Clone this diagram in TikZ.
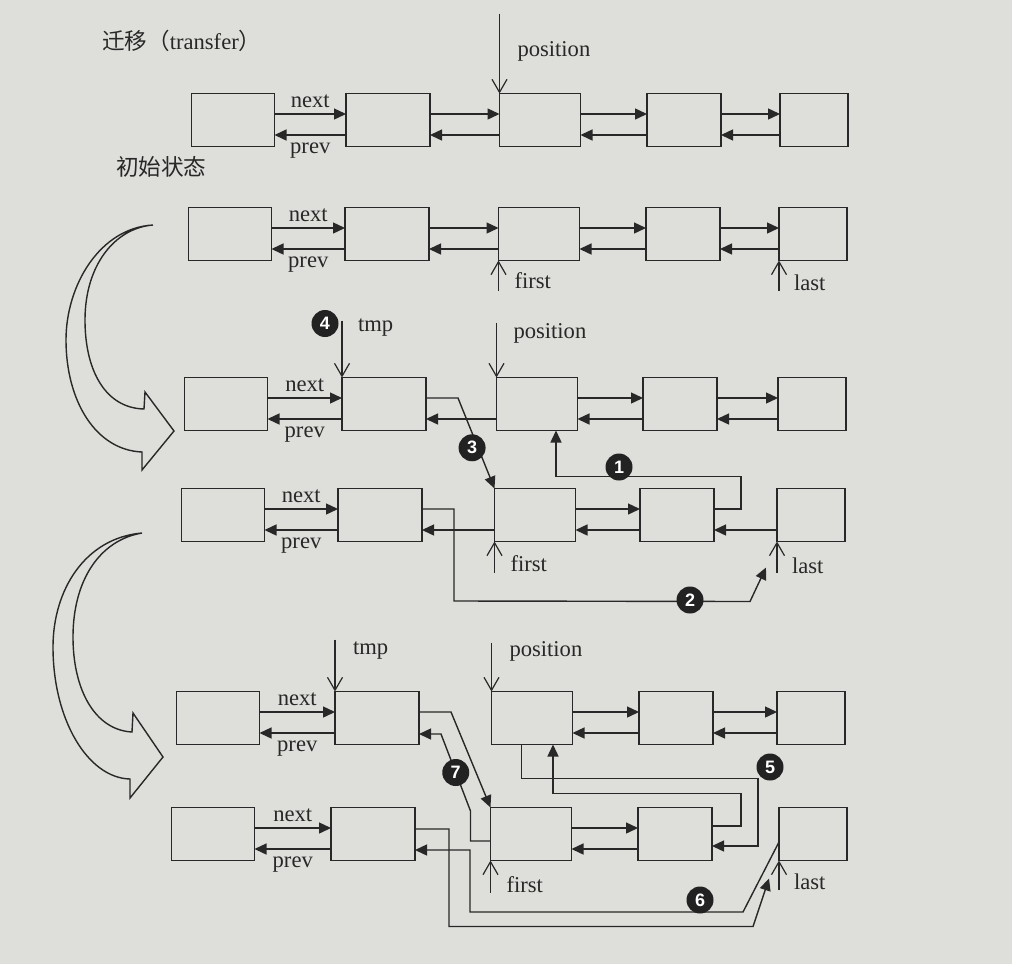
\documentclass[tikz,border=0pt]{standalone}
\usepackage{fontspec}
\setmainfont{Liberation Serif}
\newfontfamily\cjk{Noto Sans CJK SC}
\newfontfamily\numfont{Liberation Sans}
\usetikzlibrary{arrows.meta,calc,positioning}

\definecolor{paper}{RGB}{222,222,218}
\definecolor{ink}{RGB}{40,40,40}

\tikzset{
	box/.style={draw=ink, line width=0.7pt, minimum height=26.5pt, inner sep=0pt, outer sep=0pt},
	link/.style={draw=ink, line width=0.7pt, -{Triangle[length=6pt,width=5.5pt]}},
	ptr/.style={draw=ink, line width=0.6pt, -{Straight Barb[length=6.5pt,width=7.5pt]}},
	lbl/.style={font=\fontsize{11.3}{13}\selectfont, text=ink, inner sep=1.8pt, text height=1.5ex, text depth=.25ex},
	num/.style={circle, fill=ink!85!black, text=white, minimum size=13.5pt, inner sep=0pt, font=\numfont\bfseries\fontsize{9}{9}\selectfont},
}

% next/prev entre dos nodos
\newcommand\pair[2]{%
	\draw[link] ($(#1.east)+(0,-6)$) -- ($(#2.west)+(0,-6)$);
	\draw[link] ($(#2.west)+(0,15)$) -- ($(#1.east)+(0,15)$);}
\newcommand\pairlbl[2]{%
	\draw[link] ($(#1.east)+(0,-6)$) -- node[lbl, above] (#1nx) {next} ($(#2.west)+(0,-6)$);
	\draw[link] ($(#2.west)+(0,15)$) -- node[lbl, below] (#1pv) {prev} ($(#1.east)+(0,15)$);}

\begin{document}
\begin{tikzpicture}[x=0.5pt, y=-0.5pt]
	\useasboundingbox (0,0) rectangle (1012,964);
	
	% Fondo del papel
	\fill[paper] (0,0) rectangle (1012,964);
	
	% Nodos de las seis listas
	\foreach \r/\y/\xa/\xb/\xc/\xd/\xe in {a/120/233/388/540/684/814, b/234/230/387/539/683/813,
		c/404/226/384/537/680/812, d/515/223/380/535/677/811, e/718/218/377/532/676/811, f/834/213/373/531/675/813}{
		\node[box, minimum width=41.5pt] (\r1) at (\xa,\y) {};
		\node[box, minimum width=42pt] (\r2) at (\xb,\y) {};
		\node[box, minimum width=40.5pt] (\r3) at (\xc,\y) {};
		\node[box, minimum width=37pt] (\r4) at (\xd,\y) {};
		\node[box, minimum width=34pt] (\r5) at (\xe,\y) {};
	}
	
	% Titulos
	\node[lbl, anchor=west] (ttl) at (98,44) {{\cjk 迁移（}transfer{\cjk ）}};
	\node[lbl, anchor=west] (init) at (112,170) {\cjk 初始状态};
	
	% Flechas grandes
	\draw[ink, line width=0.7pt] (153,225) .. controls (100,228) and (66,285) .. (66,340)
		.. controls (66,400) and (95,450) .. (142,452) -- (142,470) -- (174,431) -- (145,392) -- (144,409)
		.. controls (105,408) and (85,370) .. (85,320) .. controls (85,265) and (115,228) .. (153,225) -- cycle;
	\draw[ink, line width=0.7pt] (142,533) .. controls (85,538) and (53,590) .. (53,647)
		.. controls (53,720) and (88,778) .. (130,779) -- (130,798) -- (163,757) -- (133,713) -- (132,732)
		.. controls (95,730) and (73,690) .. (73,637) .. controls (73,580) and (100,540) .. (142,533) -- cycle;
	
	% Fila a: transfer
	\pairlbl{a1}{a2} \pair{a2}{a3} \pair{a3}{a4} \pair{a4}{a5}
	\coordinate (pa) at ($(a3.north west)+(0,-80)$);
	\draw[ptr] (pa) -- (a3.north west);
	\node[lbl, anchor=west] (posa) at ($(a3.north west)+(14,-43)$) {position};
	
	% Fila b: estado inicial
	\pairlbl{b1}{b2} \pair{b2}{b3} \pair{b3}{b4} \pair{b4}{b5}
	\coordinate (fb) at ($(b3.south west)+(0,30)$);
	\draw[ptr] (fb) -- (b3.south west);
	\node[lbl, anchor=west] (fstb) at ($(b3.south west)+(12,22)$) {first};
	\coordinate (lb) at ($(b5.south west)+(0,30)$);
	\draw[ptr] (lb) -- (b5.south west);
	\node[lbl, anchor=west] (lstb) at ($(b5.south west)+(11,24)$) {last};
	
	% Filas c y d: pasos 1-4
	\pairlbl{c1}{c2} \pair{c3}{c4} \pair{c4}{c5}
	\draw[link] ($(c3.west)+(0,15)$) -- ($(c2.east)+(0,15)$);
	\coordinate (tc) at ($(c2.north west)+(0,-57)$);
	\draw[ptr] (tc) -- (c2.north west);
	\node[lbl, anchor=west] (tmpc) at ($(c2.north west)+(12,-52)$) {tmp};
	\node[num] (n4) at ($(c2.north west)+(-17,-54)$) {4};
	\coordinate (pc) at ($(c3.north west)+(0,-55)$);
	\draw[ptr] (pc) -- (c3.north west);
	\node[lbl, anchor=west] (posc) at ($(c3.north west)+(13,-45)$) {position};
	
	\pairlbl{d1}{d2} \pair{d3}{d4}
	\draw[link] ($(d3.west)+(0,15)$) -- ($(d2.east)+(0,15)$);
	\draw[link] ($(d5.west)+(0,15)$) -- ($(d4.east)+(0,15)$);
	\coordinate (fd) at ($(d3.south west)+(0,31)$);
	\draw[ptr] (fd) -- (d3.south west);
	\node[lbl, anchor=west] (fstd) at ($(d3.south west)+(12,24)$) {first};
	\coordinate (ld) at ($(d5.south west)+(0,31)$);
	\draw[ptr] (ld) -- (d5.south west);
	\node[lbl, anchor=west] (lstd) at ($(d5.south west)+(11,26)$) {last};
	
	\draw[link] ($(d4.east)+(0,-6)$) -- ++(27,0) |- ($(c3.south)+(19,46)$) -- ($(c3.south)+(19,0)$);
	\draw[link] ($(d2.east)+(0,-6)$) -- ++(32,0) -- ++(0,92) -- ($(d5.south west)+(-27,60)$) -- ($(d5.south west)+(-11,26)$);
	\draw[link] ($(c2.east)+(0,-6)$) -- ++(32,0) -- (d3.north west) node[num, pos=0.55, xshift=-3pt] (n3) {3};
	\node[num] (n1) at (619,467) {1};
	\node[num] (n2) at (690,600) {2};
	
	% Filas e y f: pasos 5-7
	\pairlbl{e1}{e2} \pair{e3}{e4} \pair{e4}{e5}
	\coordinate (te) at ($(e2.north west)+(0,-52)$);
	\draw[ptr] (te) -- (e2.north west);
	\node[lbl, anchor=west] (tmpe) at ($(e2.north west)+(14,-43)$) {tmp};
	\coordinate (pe) at ($(e3.north west)+(0,-49)$);
	\draw[ptr] (pe) -- (e3.north west);
	\node[lbl, anchor=west] (pose) at ($(e3.north west)+(14,-41)$) {position};
	
	\pairlbl{f1}{f2} \pair{f3}{f4}
	\coordinate (ff) at ($(f3.south west)+(0,32)$);
	\draw[ptr] (ff) -- (f3.south west);
	\node[lbl, anchor=west] (fstf) at ($(f3.south west)+(12,26)$) {first};
	\coordinate (lf) at ($(f5.south west)+(0,29)$);
	\draw[ptr] (lf) -- (f5.south west);
	\node[lbl, anchor=west] (lstf) at ($(f5.south west)+(11,23)$) {last};
	
	\draw[link] ($(e3.south west)+(30,0)$) -- ++(0,34) -| ($(f4.east)+(46,12)$) -- ($(f4.east)+(0,12)$);
	\draw[link] ($(f4.east)+(0,-8)$) -- ++(29,0) |- ($(e3.south)+(21,49)$) -- ($(e3.south)+(21,0)$);
	\draw[link] ($(e2.east)+(0,-6)$) -- ++(32,0) -- (f3.north west);
	\draw[link] ($(f3.west)+(0,7)$) -- ++(-20,0) -- ++(0,-30) -- ($(e2.east)+(22,16)$) node[num, pos=0.5] (n7) {7} -- ($(e2.east)+(0,16)$);
	\draw[link] ($(f5.west)+(0,8)$) -- ++(-36,70) -| ($(f2.east)+(55,16)$) -- ($(f2.east)+(0,16)$);
	\draw[link] ($(f2.east)+(0,-5)$) -- ++(34,0) |- ($(f5.south west)+(-26,66)$) -- ($(f5.south west)+(-10,18)$);
	\node[num] (n5) at (770,767) {5};
	\node[num] (n6) at (700,900) {6};
	
\end{tikzpicture}
\end{document}
